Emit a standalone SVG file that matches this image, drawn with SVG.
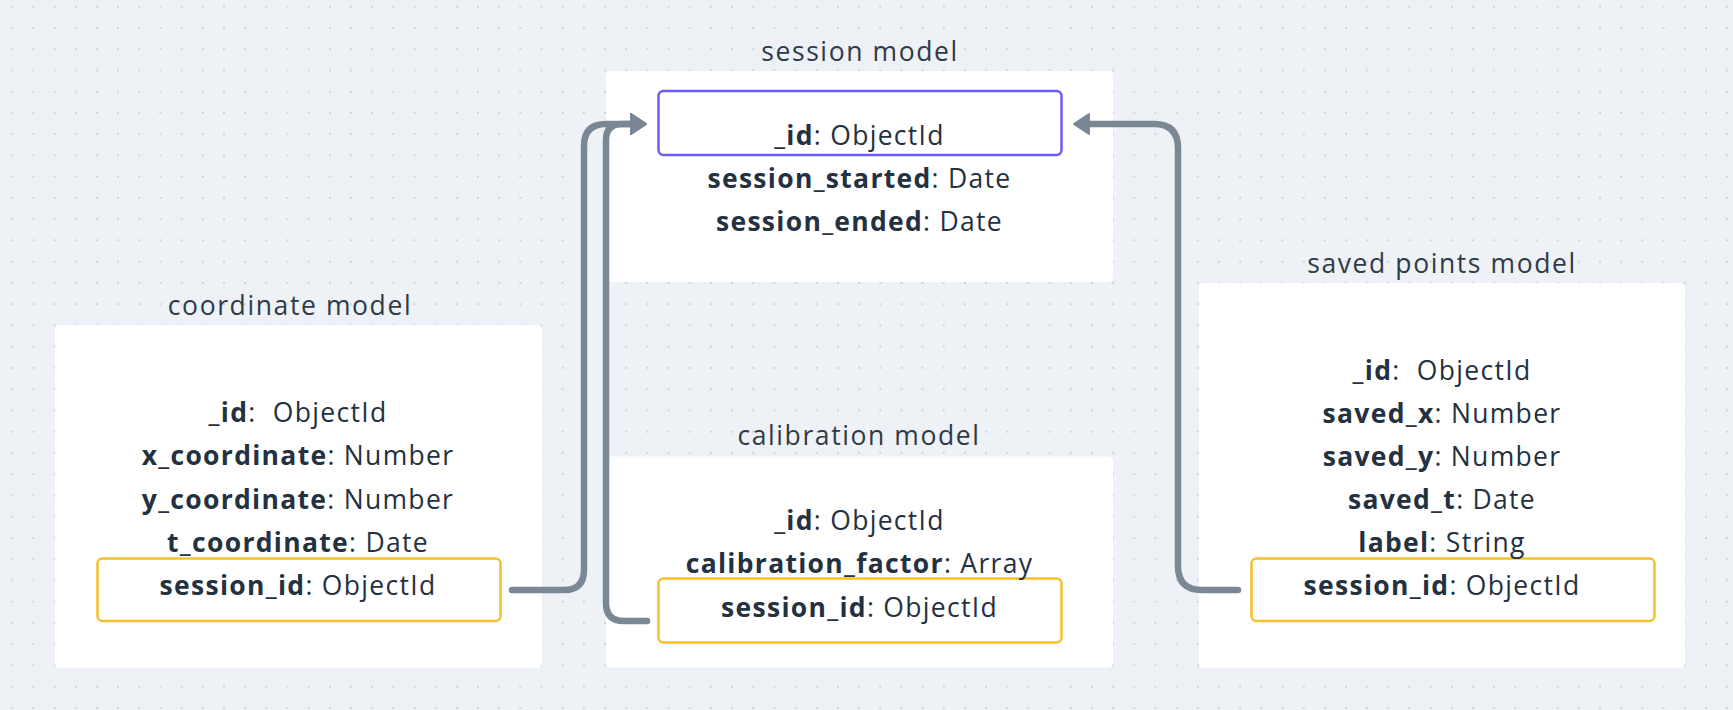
<svg xmlns="http://www.w3.org/2000/svg" width="1733" height="710" viewBox="0 0 1733 710">
  <defs>
    <pattern id="dots" x="1.7" y="-3.9" width="21.17" height="21.25" patternUnits="userSpaceOnUse">
      <circle cx="10.6" cy="10.6" r="1.1" fill="#c9d1da"/>
    </pattern>
    <marker id="arrow" viewBox="0 0 18 24" markerWidth="18" markerHeight="24" refX="1" refY="12" orient="auto" markerUnits="userSpaceOnUse">
      <path d="M1,2 L16,12 L1,22 Z" fill="#7a8795" stroke="#7a8795" stroke-width="2" stroke-linejoin="round"/>
    </marker>
    <style>
      .card { fill: #ffffff; }
      .title { font-family: "Open Sans", "Noto Sans", sans-serif; font-size: 26.5px; fill: #2f3b47; letter-spacing: 1.6px; text-anchor: middle; }
      .field { font-family: "Open Sans", "Noto Sans", sans-serif; font-size: 26.5px; fill: #243140; letter-spacing: 1.3px; text-anchor: middle; white-space: pre; }
      .b { font-weight: bold; }
      .pk { fill: none; stroke: #6a5cf0; stroke-width: 2.5; }
      .fk { fill: none; stroke: #f6c12c; stroke-width: 2.5; }
      .conn { fill: none; stroke: #7a8795; stroke-width: 6.5; stroke-linecap: round; stroke-linejoin: round; }
    </style>
  </defs>

  <rect x="0" y="0" width="1733" height="710" fill="#eef2f6"/>
  <rect x="0" y="0" width="1733" height="710" fill="url(#dots)"/>

  <g id="session-model">
    <text class="title" x="860" y="61">session model</text>
    <rect class="card" x="606" y="71" width="507" height="211" rx="5"/>
    <rect class="pk" x="658.5" y="91" width="403" height="64" rx="5"/>
    <text class="field" x="859.5" y="144.5"><tspan class="b">_id</tspan>: ObjectId</text>
    <text class="field" x="859.5" y="188"><tspan class="b">session_started</tspan>: Date</text>
    <text class="field" x="859.5" y="231"><tspan class="b">session_ended</tspan>: Date</text>
  </g>

  <g id="coordinate-model">
    <text class="title" x="290" y="315">coordinate model</text>
    <rect class="card" x="55" y="325" width="487" height="343" rx="5"/>
    <rect class="fk" x="97.5" y="558.5" width="403" height="62.5" rx="5"/>
    <text class="field" x="298" y="422"><tspan class="b">_id</tspan>:  ObjectId</text>
    <text class="field" x="298" y="465"><tspan class="b">x_coordinate</tspan>: Number</text>
    <text class="field" x="298" y="508.5"><tspan class="b">y_coordinate</tspan>: Number</text>
    <text class="field" x="298" y="551.5"><tspan class="b">t_coordinate</tspan>: Date</text>
    <text class="field" x="298" y="594.5"><tspan class="b">session_id</tspan>: ObjectId</text>
  </g>

  <g id="calibration-model">
    <text class="title" x="859" y="445">calibration model</text>
    <rect class="card" x="606" y="456.5" width="507" height="211" rx="5"/>
    <rect class="fk" x="658.5" y="578.5" width="403" height="64" rx="5"/>
    <text class="field" x="859.5" y="529.5"><tspan class="b">_id</tspan>: ObjectId</text>
    <text class="field" x="859.5" y="573"><tspan class="b">calibration_factor</tspan>: Array</text>
    <text class="field" x="859.5" y="616.5"><tspan class="b">session_id</tspan>: ObjectId</text>
  </g>

  <g id="saved-points-model">
    <text class="title" x="1442" y="273">saved points model</text>
    <rect class="card" x="1199" y="283" width="486" height="385" rx="5"/>
    <rect class="fk" x="1251.5" y="558.5" width="403" height="62.5" rx="5"/>
    <text class="field" x="1442" y="379.5"><tspan class="b">_id</tspan>:  ObjectId</text>
    <text class="field" x="1442" y="422.5"><tspan class="b">saved_x</tspan>: Number</text>
    <text class="field" x="1442" y="465.5"><tspan class="b">saved_y</tspan>: Number</text>
    <text class="field" x="1442" y="508.5"><tspan class="b">saved_t</tspan>: Date</text>
    <text class="field" x="1442" y="551.5"><tspan class="b">label</tspan>: String</text>
    <text class="field" x="1442" y="595"><tspan class="b">session_id</tspan>: ObjectId</text>
  </g>

  <g id="connectors">
    <path class="conn" d="M512,590 H564 Q584,590 584,570 V146 Q584,124 606,124 H631" marker-end="url(#arrow)"/>
    <path class="conn" d="M647,621 H624 Q606,621 606,603 V140 Q606,124 622,124 H631" marker-end="url(#arrow)"/>
    <path class="conn" d="M1238,590 H1202 Q1178,590 1178,566 V148 Q1178,124 1154,124 H1089" marker-end="url(#arrow)"/>
  </g>
</svg>
